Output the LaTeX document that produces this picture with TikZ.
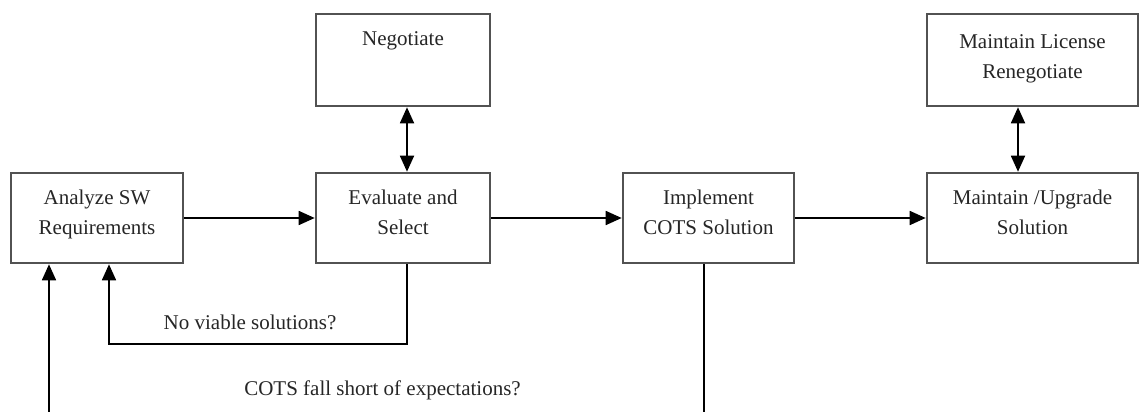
\documentclass[tikz,border=0pt]{standalone}
\usepackage{fontspec}
\setmainfont{Liberation Serif}
\usetikzlibrary{arrows.meta}
\begin{document}
\begin{tikzpicture}[x=1pt,y=-1pt,
  box/.style={draw=black!68,line width=2.6pt,fill=white,inner sep=0pt},
  txt/.style={align=center,inner sep=0pt,text=black!85,
    font=\fontsize{21}{30}\selectfont},
  conn/.style={draw=black,line width=1.8pt,
    -{Triangle[length=16pt,width=14pt]}},
  both/.style={draw=black,line width=1.8pt,
    {Triangle[length=16pt,width=14pt]}-{Triangle[length=16pt,width=14pt]}}]
\useasboundingbox (0,0) rectangle (1141,412);
\clip (0,0) rectangle (1141,412);

% process boxes
\node[box,minimum width=172pt,minimum height=90pt] (A) at (97,218) {};
\node[box,minimum width=174pt,minimum height=90pt] (E) at (403,218) {};
\node[box,minimum width=174pt,minimum height=92pt] (N) at (403,60) {};
\node[box,minimum width=171pt,minimum height=90pt] (I) at (708.5,218) {};
\node[box,minimum width=211pt,minimum height=90pt] (M) at (1032.5,218) {};
\node[box,minimum width=211pt,minimum height=92pt] (L) at (1032.5,60) {};

% box captions
\node[txt] (At) at ([yshift=5pt]A.center) {Analyze SW\strut\\Requirements\strut};
\node[txt] (Et) at ([yshift=5pt]E.center) {Evaluate and\strut\\Select\strut};
\node[txt] (Nt) at ([yshift=20pt]N.center) {Negotiate\strut};
\node[txt] (It) at ([yshift=5pt]I.center) {Implement\strut\\COTS Solution\strut};
\node[txt] (Mt) at ([yshift=5pt]M.center) {Maintain /Upgrade\strut\\Solution\strut};
\node[txt] (Lt) at ([yshift=3pt]L.center) {Maintain License\strut\\Renegotiate\strut};

% main flow
\draw[conn] (A.east) -- (E.west);
\draw[conn] (E.east) -- (I.west);
\draw[conn] (I.east) -- (M.west);

% two-way links
\draw[both] ([xshift=4pt]N.south) -- ([xshift=4pt]E.north);
\draw[both] ([xshift=-14.5pt]L.south) -- ([xshift=-14.5pt]M.north);

% feedback loops
\draw[conn] ([xshift=4pt]E.south) -- ++(0,80) -| ([xshift=12pt]A.south);
\draw[conn] ([xshift=-4.5pt]I.south) -- ++(0,157) -| ([xshift=-48pt]A.south);

% loop labels
\node[txt] (nv) at (250,322) {No viable solutions?};
\node[txt] (cf) at (382.5,390) {COTS fall short of expectations?};
\end{tikzpicture}
\end{document}
